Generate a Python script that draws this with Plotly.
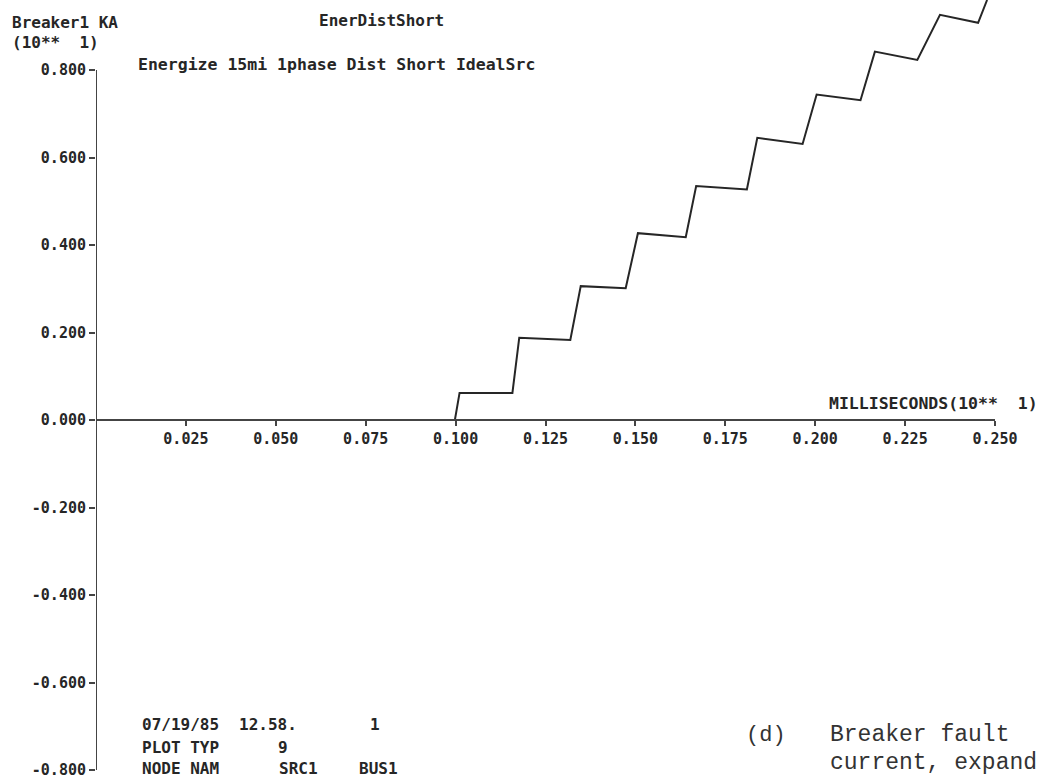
import plotly.graph_objects as go

# breaker current (x in units of 10 ms, y in units of 10 kA)
time_ms = [0.0, 0.0998, 0.1011, 0.1158, 0.1177, 0.1319, 0.1348, 0.1473, 0.1507,
           0.1640, 0.1669, 0.1810, 0.1839, 0.1965, 0.2004, 0.2126, 0.2166,
           0.2284, 0.2347, 0.2453, 0.2478]
current_ka = [0.0, 0.0, 0.062, 0.062, 0.188, 0.183, 0.306, 0.301, 0.427,
              0.418, 0.535, 0.527, 0.645, 0.631, 0.744, 0.731, 0.842,
              0.823, 0.926, 0.908, 0.960]

x_ticks = [0.025, 0.050, 0.075, 0.100, 0.125, 0.150, 0.175, 0.200, 0.225, 0.250]
y_ticks = [-0.8, -0.6, -0.4, -0.2, 0.0, 0.2, 0.4, 0.6, 0.8]

info_rows = [
    ["07/19/85", "12.58.", "1"],
    ["PLOT TYP", "9"],
    ["NODE NAM", "SRC1", "BUS1"],
]

X_RANGE = [0, 0.25]
Y_RANGE = [-0.8, 0.96]

# plot area in pixels
W, H = 1045, 782
L, R, T, B = 96, 995, 0, 770

PLOT_FONT = "DejaVu Sans Mono"
INK = "#262626"


def px(x):
    return (x - L) / (R - L)


def py(y):
    return (B - y) / (B - T)


def nb(s):
    return s.replace(" ", "\u00a0")


fig = go.Figure()

fig.add_trace(
    go.Scatter(
        x=time_ms,
        y=current_ka,
        mode="lines",
        line=dict(color=INK, width=2),
        hoverinfo="skip",
    )
)

# y axis line only spans the labelled range
fig.add_shape(
    type="line", x0=0, x1=0, y0=y_ticks[0], y1=y_ticks[-1],
    xref="x", yref="y", line=dict(color="#444", width=2), layer="below",
)

ann = []


def text(s, x, y, size=16, anchor="left", family=PLOT_FONT, color=INK, weight="bold"):
    ann.append(dict(
        text=nb(s), x=px(x), y=py(y), xref="paper", yref="paper",
        xanchor=anchor, yanchor="middle", showarrow=False,
        font=dict(family=family, size=size, color=color, weight=weight),
    ))


text("Breaker1 KA", 10, 22)
text("(10**  1)", 10, 42)
text("EnerDistShort", 317, 21)
text("Energize 15mi 1phase Dist Short IdealSrc", 136, 65, size=16.5)
text("MILLISECONDS(10**  1)", 1040, 403, size=16.5, anchor="right")

col_x = [[140, 237, 368], [140, 276], [140, 277, 357]]
row_y = [724, 747, 768]
for row, xs, y in zip(info_rows, col_x, row_y):
    for s, x in zip(row, xs):
        text(s, x, y, size=16)

cap = "Liberation Mono, Courier New, monospace"
text("(d)", 744, 735, size=22, family=cap, color="#333", weight="normal")
text("Breaker fault", 828, 735, size=23, family=cap, color="#333", weight="normal")
text("current, expand", 828, 763, size=23, family=cap, color="#333", weight="normal")

fig.update_layout(
    width=W,
    height=H,
    margin=dict(l=L, r=W - R, t=T, b=H - B),
    paper_bgcolor="white",
    plot_bgcolor="white",
    showlegend=False,
    font=dict(family=PLOT_FONT, size=15, color=INK),
    annotations=ann,
    xaxis=dict(
        range=X_RANGE,
        anchor="free",
        position=(0 - Y_RANGE[0]) / (Y_RANGE[1] - Y_RANGE[0]),
        showline=True,
        linecolor="#444",
        linewidth=2,
        ticks="outside",
        ticklen=5,
        tickwidth=2,
        tickcolor="#444",
        tickvals=x_ticks,
        ticktext=[f"{v:.3f}" for v in x_ticks],
        tickfont=dict(size=15, weight="bold"),
        showgrid=False,
        zeroline=False,
    ),
    yaxis=dict(
        range=Y_RANGE,
        showline=False,
        ticks="outside",
        ticklen=6,
        tickwidth=2,
        tickcolor="#444",
        tickvals=y_ticks,
        ticktext=[f"{v:.3f}" for v in y_ticks],
        tickfont=dict(size=15, weight="bold"),
        showgrid=False,
        zeroline=False,
    ),
)

fig.write_html(
    "out.html",
    config={"displayModeBar": False},
    post_script="document.body.style.margin='0';",
)
